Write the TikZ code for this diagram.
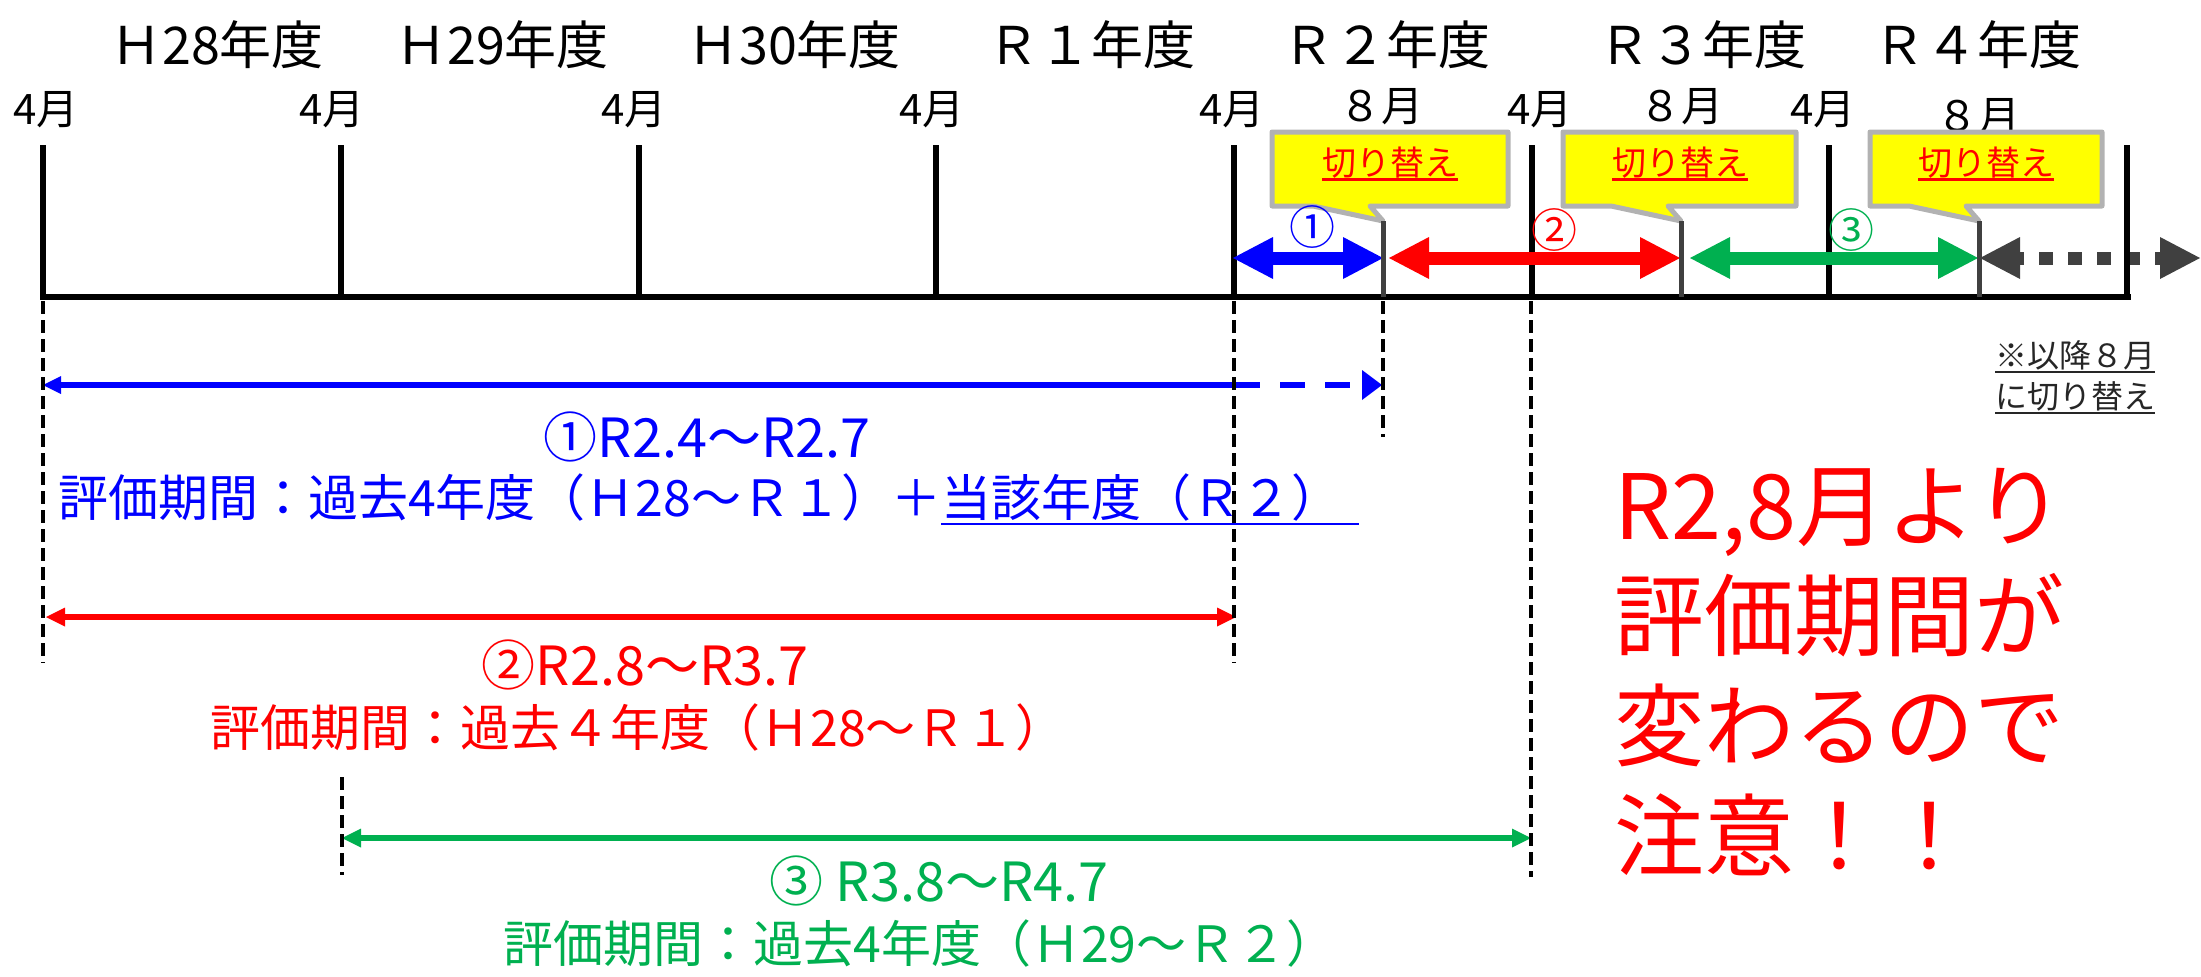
\documentclass[tikz,border=0pt]{standalone}
\usepackage{fontspec}
\setmainfont{Noto Sans CJK JP}
\usetikzlibrary{arrows.meta}
\definecolor{myblue}{RGB}{0,0,255}
\definecolor{myred}{RGB}{255,0,0}
\definecolor{mygreen}{RGB}{0,176,80}
\definecolor{mygray}{RGB}{64,64,64}
\definecolor{myyellow}{RGB}{255,255,0}
\definecolor{callborder}{RGB}{178,178,178}
\definecolor{notecol}{RGB}{38,38,38}
\newcommand\mycallout[3]{%
  \draw[calloutbox] (#1,132) -- (#2,132) -- (#2,206) -- (#3-13,206) -- (#3,221) -- (#3-70,206) -- (#1,206) -- cycle;}
\begin{document}
\begin{tikzpicture}[x=1pt,y=-1pt,
  every node/.style={inner sep=0pt, outer sep=0pt},
  majortick/.style={line width=6pt, black},
  tickeight/.style={line width=5pt, mygray},
  vdash/.style={line width=3.5pt, black, dash pattern=on 13pt off 6pt},
  bigarrow/.style={line width=13pt, {Triangle[length=40pt,width=42pt,line width=0pt]}-{Triangle[length=40pt,width=42pt,line width=0pt]}},
  thinarrow/.style={line width=6pt, {Triangle[length=19pt,width=19pt,line width=0pt]}-{Triangle[length=19pt,width=19pt,line width=0pt]}},
  calloutbox/.style={fill=myyellow, draw=callborder, line width=5pt, line join=round},
  yearlbl/.style={font=\fontsize{52}{60}\selectfont},
  monthlbl/.style={font=\fontsize{42}{50}\selectfont},
  numlbl/.style={font=\fontsize{46}{50}\selectfont},
  switchlbl/.style={font=\fontsize{34}{40}\selectfont, text=myred},
  headlbl/.style={font=\fontsize{54}{64}\selectfont},
  bodylbl/.style={font=\fontsize{50}{60}\selectfont},
  notelbl/.style={font=\fontsize{32}{40}\selectfont, text=notecol, anchor=west},
]
\useasboundingbox (0,0) rectangle (2201,977);

% tick coordinates
\foreach \n/\x in {0/43,1/341,2/639,3/936,4/1234,5/1532,6/1829,7/2127} {
  \coordinate (T\n) at (\x,145);
  \coordinate (B\n) at (\x,297);
}
\foreach \n/\x in {1/1383,2/1681,3/1979} {
  \coordinate (E\n) at (\x,221);
  \coordinate (F\n) at (\x,297);
}

% year headers
\node[yearlbl] (y28) at (217,45) {Ｈ28年度};
\node[yearlbl] (y29) at (502,45) {Ｈ29年度};
\node[yearlbl] (y30) at (794,45) {Ｈ30年度};
\node[yearlbl] (yr1) at (1091,45) {Ｒ１年度};
\node[yearlbl] (yr2) at (1386,45) {Ｒ２年度};
\node[yearlbl] (yr3) at (1702,45) {Ｒ３年度};
\node[yearlbl] (yr4) at (1977,45) {Ｒ４年度};

% month labels
\node[monthlbl] (m0) at (46,110) {4月};
\node[monthlbl] (m1) at (332,110) {4月};
\node[monthlbl] (m2) at (634,110) {4月};
\node[monthlbl] (m3) at (932,110) {4月};
\node[monthlbl] (m4) at (1232,110) {4月};
\node[monthlbl] (m5) at (1540,110) {4月};
\node[monthlbl] (m6) at (1823,110) {4月};
\node[monthlbl] (a1) at (1381,107) {８月};
\node[monthlbl] (a2) at (1681,107) {８月};
\node[monthlbl] (a3) at (1978,117) {８月};

% axis and ticks
\coordinate (axisL) at (40,297);
\coordinate (axisR) at (2131,297);
\draw[line width=6.5pt] (axisL) -- (axisR);
\foreach \n in {0,...,6} \draw[majortick] (T\n) -- (B\n);

% thick period arrows
\coordinate (p1a) at (1233,258);
\coordinate (p1b) at (1383,258);
\coordinate (p2a) at (1389,258);
\coordinate (p2b) at (1680,258);
\coordinate (p3a) at (1690,258);
\coordinate (p3b) at (1978,258);
\coordinate (p4a) at (1980,258);
\coordinate (p4b) at (2200,258);
\draw[bigarrow, myblue] (p1a) -- (p1b);
\draw[bigarrow, myred] (p2a) -- (p2b);
\draw[bigarrow, mygreen] (p3a) -- (p3b);
\draw[bigarrow, mygray, dash pattern=on 14pt off 15pt, dash phase=10pt] (p4a) -- (p4b);

% callouts
\mycallout{1272}{1508}{1383}
\mycallout{1563}{1796}{1681}
\mycallout{1870}{2102}{1979}
\node[switchlbl] (sw1) at (1390,163) {切り替え};
\node[switchlbl] (sw2) at (1680,163) {切り替え};
\node[switchlbl] (sw3) at (1986,163) {切り替え};
\foreach \s in {sw1,sw2,sw3}
  \draw[myred, line width=2.5pt] ([yshift=-1pt]\s.south west) -- ([yshift=-1pt]\s.south east);

% 8-month ticks and end tick
\foreach \n in {1,2,3} \draw[tickeight] (E\n) -- (F\n);
\draw[majortick] (T7) -- (B7);

% circled numbers
\node[numlbl, text=myblue] (c1) at (1312,227) {①};
\node[numlbl, text=myred] (c2) at (1554,230) {②};
\node[numlbl, text=mygreen] (c3) at (1851,230) {③};

% evaluation period arrows
\coordinate (ba) at (43,385);
\coordinate (bm) at (1237,385);
\coordinate (bb) at (1382,385);
\draw[myblue, line width=6pt, {Triangle[length=18pt,width=18pt,line width=0pt]}-] (ba) -- (bm);
\draw[myblue, line width=6pt, dash pattern=on 25pt off 20pt, dash phase=2pt, -{Triangle[length=20pt,width=30pt,line width=0pt]}] (bm) -- (bb);

\coordinate (ra) at (46,617);
\coordinate (rb) at (1236,617);
\draw[thinarrow, myred] (ra) -- (rb);

\coordinate (ga) at (342,838);
\coordinate (gb) at (1531,838);
\draw[thinarrow, mygreen] (ga) -- (gb);

% dashed guide lines
\coordinate (d0a) at (43,301);   \coordinate (d0b) at (43,663);
\coordinate (d4a) at (1234,301); \coordinate (d4b) at (1234,663);
\coordinate (d8a) at (1383,301); \coordinate (d8b) at (1383,437);
\coordinate (d5a) at (1531,301); \coordinate (d5b) at (1531,877);
\coordinate (d1a) at (342,777);  \coordinate (d1b) at (342,875);
\draw[vdash] (d0a) -- (d0b);
\draw[vdash] (d4a) -- (d4b);
\draw[vdash] (d8a) -- (d8b);
\draw[vdash] (d5a) -- (d5b);
\draw[vdash] (d1a) -- (d1b);

% blue texts
\node[headlbl, text=myblue] (b1) at (707,437) {①R2.4～R2.7};
\node[bodylbl, text=myblue, anchor=west] (b2a) at (58,497) {評価期間：過去4年度（Ｈ28～Ｒ１）＋};
\node[bodylbl, text=myblue, anchor=base west] (b2b) at (b2a.base east) {当該年度（Ｒ２）};
\coordinate (b2end) at (1359,524);
\draw[myblue, line width=2.5pt] (b2b.west |- b2end) -- (b2end);

% red texts
\node[headlbl, text=myred] (r1) at (645,665) {②R2.8～R3.7};
\node[bodylbl, text=myred] (r2) at (638,727) {評価期間：過去４年度（Ｈ28～Ｒ１）};

% green texts
\node[headlbl, text=mygreen] (g1) at (939,881) {③ R3.8～R4.7};
\node[bodylbl, text=mygreen] (g2) at (920,943) {評価期間：過去4年度（Ｈ29～Ｒ２）};

% note
\node[notelbl] (n1) at (1995,355) {※以降８月};
\node[notelbl] (n2) at (1995,396) {に切り替え};
\foreach \s in {n1,n2}
  \draw[notecol, line width=2.5pt] ([yshift=-2pt]\s.south west) -- ([yshift=-2pt]\s.south east);

% big warning
\node[anchor=west, align=left, text=myred, font=\fontsize{90}{110}\selectfont] (warn) at (1614,672) {R2,8月より\\評価期間が\\変わるので\\注意！！};
\end{tikzpicture}
\end{document}
